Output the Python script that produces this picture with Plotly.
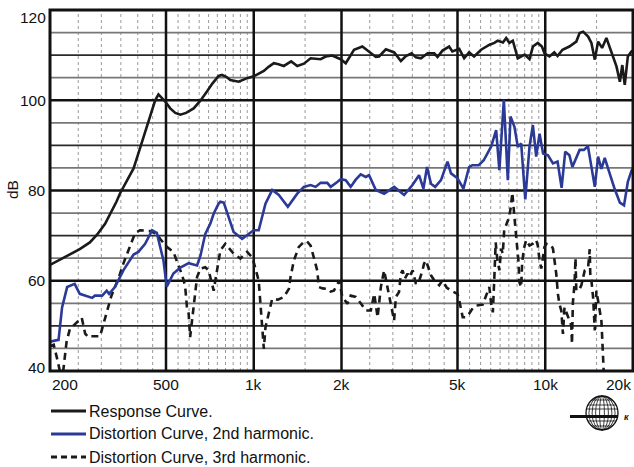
import math
import plotly.graph_objects as go

# ---------------- data ----------------
resp_f = [200, 225, 253, 274, 290, 309, 321, 338, 348, 365, 387, 401, 416, 432, 448, 459, 471, 480, 497, 517,
          538, 560, 586, 622, 656, 690, 721, 758, 778, 805, 831, 888, 949, 1000, 1038, 1083, 1124, 1172, 1216,
          1268, 1344, 1410, 1486, 1567, 1696, 1765, 1859, 1987, 2068, 2208, 2358, 2486, 2623, 2691, 2839, 3033,
          3197, 3326, 3480, 3601, 3746, 3950, 4160, 4270, 4440, 4680, 4800, 5070, 5270, 5480, 5700, 6025, 6440,
          6690, 6870, 7160, 7344, 7530, 7740, 8050, 8500, 8830, 9070, 9430, 9740, 9940, 10340, 10740, 11020,
          11460, 12100, 12780, 13120, 13490, 14030, 14400, 14790, 15180, 15670, 16210, 16870, 17550, 18030,
          18380, 18740, 19200, 19760, 20180]
resp_db = [63.5, 65.2, 67.0, 68.5, 70.2, 72.6, 74.6, 77.5, 79.4, 81.8, 84.9, 88.0, 91.2, 94.5, 97.8, 100.0, 101.3,
           100.8, 99.7, 98.2, 97.2, 96.8, 97.2, 98.2, 99.9, 101.9, 103.7, 105.4, 105.6, 105.2, 104.5, 104.1, 104.9,
           105.3, 105.9, 106.5, 107.4, 108.2, 108.0, 107.6, 108.6, 107.6, 108.1, 109.3, 109.1, 109.7, 109.9, 109.1,
           108.2, 111.2, 111.9, 110.7, 109.6, 109.7, 111.3, 110.6, 108.7, 109.8, 110.4, 109.5, 109.3, 110.4, 110.4,
           109.6, 111.0, 111.9, 110.8, 111.4, 109.3, 110.6, 109.7, 111.2, 112.3, 112.7, 113.2, 112.8, 113.8, 112.7,
           113.2, 109.3, 110.1, 109.1, 111.9, 112.7, 111.9, 110.4, 109.7, 110.6, 109.8, 111.2, 111.9, 113.0, 114.9,
           115.2, 114.1, 112.7, 109.0, 113.0, 111.6, 113.8, 110.4, 107.5, 104.1, 107.8, 103.4, 109.7, 110.8, 111.2]

h2_f = [200, 214, 220, 229, 243, 253, 279, 285, 302, 313, 319, 334, 357, 387, 402, 424, 448, 465, 490, 503, 530,
        560, 598, 639, 656, 682, 710, 729, 758, 768, 789, 821, 853, 912, 961, 1000, 1040, 1097, 1157, 1219, 1309,
        1410, 1486, 1567, 1630, 1696, 1788, 1836, 1934, 1987, 2068, 2151, 2238, 2328, 2423, 2486, 2623, 2800,
        3033, 3280, 3503, 3690, 3820, 3930, 4055, 4190, 4389, 4620, 4750, 5000, 5240, 5480, 5620, 5910, 6150,
        6520, 6785, 6960, 7210, 7440, 7600, 7840, 8050, 8270, 8540, 8830, 9070, 9310, 9560, 9830, 10220, 10630,
        11020, 11380, 11710, 12100, 12390, 13120, 13570, 14010, 14790, 15180, 15580, 16000, 16630, 17270, 18030,
        18630, 19200, 19800, 20180]
h2_db = [46.5, 46.9, 54.1, 58.6, 59.3, 57.1, 56.2, 56.7, 56.7, 57.8, 57.1, 58.6, 62.3, 65.8, 66.4, 68.2, 71.2, 70.6,
         64.5, 58.7, 61.6, 62.9, 63.9, 63.4, 65.5, 70.4, 72.7, 74.9, 77.1, 77.5, 77.3, 74.1, 70.8, 69.3, 70.4, 71.2,
         71.2, 77.1, 80.1, 79.0, 76.4, 79.3, 80.8, 81.2, 80.8, 81.7, 81.7, 80.8, 81.9, 82.5, 82.3, 80.8, 82.4, 83.6,
         83.0, 83.4, 80.1, 79.3, 80.8, 79.0, 81.2, 83.4, 80.4, 85.2, 81.5, 80.8, 82.3, 86.4, 83.8, 82.7, 80.4, 85.2,
         85.6, 85.6, 86.7, 89.7, 93.4, 84.5, 100.1, 82.3, 96.4, 94.1, 89.7, 90.4, 78.0, 89.7, 94.5, 87.5, 92.6, 88.2,
         87.8, 86.0, 86.4, 80.6, 88.6, 87.8, 85.2, 89.0, 89.0, 89.8, 80.8, 87.5, 84.8, 87.2, 83.8, 80.5, 77.3, 76.7,
         81.9, 84.5, 85.0]

h3_f = [200, 206, 212, 217, 222, 228, 234, 251, 257, 264, 271, 274, 297, 305, 317, 325, 334, 343, 357, 371, 387,
        397, 407, 441, 465, 477, 503, 530, 545, 560, 575, 582, 590, 598, 605, 614, 622, 630, 639, 656, 682, 700,
        718, 729, 738, 758, 768, 799, 831, 853, 900, 949, 987, 1000, 1040, 1054, 1069, 1083, 1097, 1126, 1157,
        1210, 1268, 1320, 1337, 1373, 1428, 1486, 1520, 1567, 1608, 1651, 1673, 1722, 1800, 1836, 1883, 1940,
        1965, 2013, 2096, 2151, 2238, 2328, 2423, 2521, 2590, 2660, 2729, 2800, 2870, 2910, 2990, 3030, 3073,
        3150, 3197, 3240, 3300, 3370, 3410, 3510, 3600, 3700, 3790, 3840, 3897, 4055, 4160, 4330, 4440, 4590,
        4750, 4870, 5000, 5070, 5142, 5210, 5350, 5480, 5650, 5790, 6100, 6210, 6340, 6430, 6520, 6610, 6690,
        6760, 6840, 6960, 7060, 7150, 7230, 7340, 7430, 7520, 7620, 7710, 7840, 7950, 8020, 8100, 8150, 8270,
        8330, 8440, 8600, 8830, 9070, 9310, 9430, 9560, 9690, 9940, 10080, 10490, 10630, 10760, 10910, 11050,
        11180, 11350, 11440, 11500, 11640, 11810, 12100, 12290, 12350, 12440, 12600, 12700, 12780, 13120, 13300,
        13660, 14030, 14210, 14270, 14400, 14590, 14690, 14790, 14980, 15180, 15370, 15580, 15640, 15700, 15730,
        15780, 15940]
h3_db = [45.5, 45.8, 42.5, 39.5, 40.0, 46.5, 49.3, 51.2, 51.8, 48.3, 47.5, 47.7, 47.7, 50.4, 54.1, 56.7, 58.6, 60.4,
         63.8, 66.7, 69.7, 70.8, 71.2, 71.0, 70.4, 69.3, 67.5, 66.4, 64.5, 62.3, 60.1, 58.6, 54.1, 52.7, 47.5, 51.2,
         54.1, 57.8, 60.8, 62.7, 63.0, 62.3, 59.3, 57.8, 60.0, 64.5, 66.7, 68.2, 67.0, 66.0, 64.9, 66.4, 65.2, 64.1,
         60.0, 55.0, 49.7, 44.9, 49.7, 52.7, 56.0, 55.8, 56.4, 58.2, 60.8, 64.5, 67.5, 68.6, 68.8, 67.8, 65.2, 62.3,
         58.6, 58.3, 58.2, 57.6, 57.8, 59.5, 60.0, 56.4, 54.9, 56.7, 56.4, 55.0, 53.4, 53.4, 57.1, 51.9, 58.6, 62.3,
         58.6, 57.1, 52.7, 51.2, 56.4, 57.5, 61.6, 62.3, 60.5, 61.6, 60.8, 62.3, 59.3, 60.1, 62.3, 63.8, 64.5, 61.2,
         60.1, 59.0, 60.1, 58.5, 57.8, 57.5, 57.1, 55.6, 53.4, 51.9, 51.9, 52.7, 54.0, 54.5, 54.7, 56.0, 57.8, 58.6,
         55.0, 53.0, 60.8, 68.5, 65.0, 62.3, 67.1, 66.0, 71.2, 72.3, 73.0, 74.1, 76.4, 79.5, 74.1, 70.4, 67.5, 64.0,
         59.7, 58.6, 63.8, 67.0, 69.0, 67.8, 68.2, 69.0, 67.8, 64.5, 62.7, 67.5, 68.2, 67.8, 67.1, 64.5, 61.5, 57.1,
         54.9, 53.4, 49.5, 48.2, 54.1, 53.0, 51.6, 50.1, 46.0, 55.2, 59.3, 65.0, 57.8, 58.2, 59.0, 62.3, 63.0, 67.0,
         61.6, 60.1, 56.4, 53.5, 49.0, 57.8, 55.6, 53.0, 51.2, 49.0, 46.7, 44.6, 40.1, 37.0]

x_tick_vals = [200, 500, 1000, 2000, 5000, 10000, 20000]
x_tick_text = ["200", "500", "1k", "2k", "5k", "10k", "20k"]
y_tick_vals = [40, 60, 80, 100, 120]
y_tick_text = ["40", "60", "80", "100", "120"]
x_major_grid = [500, 1000, 2000, 5000, 10000]
x_minor_grid = [250, 300, 350, 400, 450, 550, 600, 650, 700, 750, 800, 850, 900, 950,
                1500, 2500, 3000, 3500, 4000, 4500, 5500, 6000, 6500, 7000, 7500, 8000, 8500, 9000, 9500,
                15000]
y_grid = [45, 50, 55, 60, 65, 70, 75, 80, 85, 90, 95, 100, 105, 110, 115]
series_names = ["Response Curve.", "Distortion Curve, 2nd harmonic.", "Distortion Curve, 3rd harmonic."]

# ---------------- styling ----------------
W, H = 634, 467
ML, MR, MT, MB = 50, 1, 10, 96
PW, PH = W - ML - MR, H - MT - MB
FONT = "Arial, Liberation Sans, sans-serif"
BLUE = "#2B3A97"
c_resp = dict(color="#1a1a1a", width=2.6)
c_h2 = dict(color=BLUE, width=2.6)
c_h3 = dict(color="#1a1a1a", width=2.6, dash="7px,5px")


def px(x):
    return (x - ML) / PW


def py(y):
    return (H - MB - y) / PH


fig = go.Figure()
fig.add_trace(go.Scatter(x=h3_f, y=h3_db, mode="lines", line=c_h3, name=series_names[2], showlegend=False))
fig.add_trace(go.Scatter(x=h2_f, y=h2_db, mode="lines", line=c_h2, name=series_names[1], showlegend=False))
fig.add_trace(go.Scatter(x=resp_f, y=resp_db, mode="lines", line=c_resp, name=series_names[0], showlegend=False))

shapes = []
for f in x_minor_grid:
    shapes.append(dict(type="line", xref="x", yref="paper", x0=f, x1=f, y0=0, y1=1, layer="below",
                       line=dict(color="#9a9a9a", width=1, dash="dot")))
for v in y_grid:
    if v % 20 == 0:
        ln = dict(color="#111111", width=2.5)
    elif v % 10 == 0:
        ln = dict(color="#2a2a2a", width=1.8)
    else:
        ln = dict(color="#777777", width=1.8)
    shapes.append(dict(type="line", xref="paper", yref="y", x0=0, x1=1, y0=v, y1=v, layer="below", line=ln))
for f in x_major_grid:
    shapes.append(dict(type="line", xref="x", yref="paper", x0=f, x1=f, y0=0, y1=1, layer="below",
                       line=dict(color="#111111", width=2.5)))
# frame
shapes.append(dict(type="rect", xref="paper", yref="paper", x0=0, x1=1, y0=0, y1=1,
                   line=dict(color="#111111", width=3)))

annotations = []
# x tick labels
for i, (v, t) in enumerate(zip(x_tick_vals, x_tick_text)):
    anchor = "center"
    if i == 0:
        anchor = "left"
    elif i == len(x_tick_vals) - 1:
        anchor = "right"
    annotations.append(dict(x=math.log10(v), y=0, xref="x", yref="paper", text=t, showarrow=False,
                            xanchor=anchor, yanchor="top", yshift=-3, font=dict(family=FONT, size=15.5, color="#111")))
# y tick labels
for v, t in zip(y_tick_vals, y_tick_text):
    ys = 0
    if v == max(y_tick_vals):
        ys = -7
    elif v == min(y_tick_vals):
        ys = 4
    annotations.append(dict(x=0, y=v, xref="paper", yref="y", text=t, showarrow=False, xanchor="right",
                            yanchor="middle", xshift=-2, yshift=ys, font=dict(family=FONT, size=15.5, color="#111")))
annotations.append(dict(x=px(12), y=py(190), xref="paper", yref="paper", text="dB", textangle=-90,
                        showarrow=False, xanchor="center", yanchor="middle", font=dict(family=FONT, size=15.5, color="#111")))

# legend (manual)
leg_styles = [c_resp, c_h2, dict(color="#1a1a1a", width=3, dash="6px,4px")]
for i, name in enumerate(series_names):
    yy = 411 + 23 * i
    st = dict(leg_styles[i])
    st["width"] = 3
    shapes.append(dict(type="line", xref="paper", yref="paper", x0=px(51), x1=px(86), y0=py(yy), y1=py(yy), line=st))
    annotations.append(dict(x=px(88), y=py(yy), xref="paper", yref="paper", text=name, showarrow=False,
                            xanchor="left", yanchor="middle", borderpad=0,
                            font=dict(family=FONT, size=16, color="#111")))

# logo: globe with bar
cx, cy, rx, ry = 602, 413, 16, 17
shapes.append(dict(type="circle", xref="paper", yref="paper", x0=px(cx - rx), x1=px(cx + rx),
                   y0=py(cy + ry), y1=py(cy - ry), line=dict(color="#111", width=1.3)))
for k in [0.15, 0.4, 0.62, 0.82]:
    shapes.append(dict(type="circle", xref="paper", yref="paper", x0=px(cx - rx * k), x1=px(cx + rx * k),
                       y0=py(cy + ry), y1=py(cy - ry), line=dict(color="#111", width=0.8)))
for dy in [-13, -8, -4, 4, 8, 13]:
    hw = rx * math.sqrt(max(0.0, 1 - (dy / ry) ** 2))
    shapes.append(dict(type="line", xref="paper", yref="paper", x0=px(cx - hw), x1=px(cx + hw),
                       y0=py(cy + dy), y1=py(cy + dy), line=dict(color="#111", width=0.8)))
shapes.append(dict(type="line", xref="paper", yref="paper", x0=px(570), x1=px(618), y0=py(416.5), y1=py(416.5),
                   line=dict(color="#111", width=3)))
annotations.append(dict(x=px(626), y=py(417), xref="paper", yref="paper", text="<b><i>к</i></b>", showarrow=False,
                        xanchor="center", yanchor="middle", font=dict(family=FONT, size=9, color="#111")))

fig.update_layout(
    width=W, height=H,
    margin=dict(l=ML, r=MR, t=MT, b=MB, pad=0),
    paper_bgcolor="white", plot_bgcolor="white",
    xaxis=dict(type="log", range=[math.log10(200), math.log10(20000)], showgrid=False, zeroline=False,
               showticklabels=False, ticks="", showline=False),
    yaxis=dict(range=[40, 120], showgrid=False, zeroline=False, showticklabels=False, ticks="", showline=False),
    shapes=shapes, annotations=annotations, showlegend=False,
)

fig.write_html("out.html", config={"displayModeBar": False},
               post_script="document.body.style.margin='0';document.body.style.overflow='hidden';")
